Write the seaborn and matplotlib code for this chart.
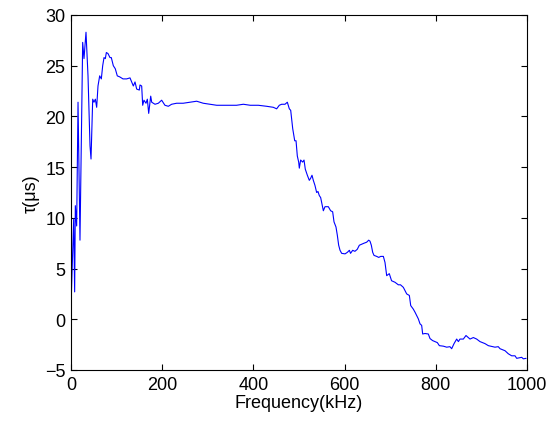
import matplotlib
matplotlib.use("Agg")
import matplotlib.pyplot as plt
import seaborn as sns
import pandas as pd

freq_khz = [0.7, 5.9, 8.0, 9.5, 12.4, 15.4, 19.7, 25.6, 28.5, 32.9, 37.3, 41.7, 43.9,
            47.6, 50.4, 53.4, 56.3, 59.2, 62.9, 66.5, 69.5, 72.4, 75.3, 77.5, 81.1,
            85.5, 88.4, 92.8, 97.1, 101.5, 106.8, 114.0, 122.0, 129.4, 136.7, 140.4,
            144.0, 149.8, 151.3, 155.0, 157.2, 160.0, 164.5, 167.4, 170.4, 174.8,
            177.0, 184.2, 191.5, 198.8, 206.0, 213.4, 220.7, 231.7, 246.0, 261.0,
            275.6, 290.0, 304.8, 319.5, 334.0, 349.0, 363.0, 378.0, 393.0, 410.8,
            429.0, 443.6, 451.0, 456.8, 462.0, 469.3, 474.4, 478.8, 481.8, 486.2,
            490.6, 493.5, 496.3, 499.3, 500.7, 503.6, 508.0, 511.0, 513.8, 518.3,
            522.6, 525.5, 528.5, 531.4, 535.0, 538.7, 541.6, 544.5, 547.5, 549.7,
            553.4, 557.0, 564.3, 569.4, 573.8, 576.8, 581.1, 584.0, 587.0, 590.0,
            593.6, 601.0, 606.0, 610.5, 613.0, 617.7, 622.6, 627.8, 632.3, 637.4,
            642.5, 648.4, 652.8, 655.7, 658.6, 661.6, 664.5, 670.4, 674.8, 679.2,
            685.0, 688.6, 692.3, 698.0, 703.0, 710.5, 717.8, 722.6, 728.8, 736.2,
            742.0, 745.0, 750.7, 754.4, 761.7, 765.4, 769.0, 771.2, 776.3, 783.6,
            787.3, 793.0, 798.0, 803.4, 807.8, 816.6, 823.9, 831.0, 834.8, 840.0,
            845.8, 849.5, 853.0, 860.4, 866.2, 875.0, 882.3, 889.6, 896.9, 907.9,
            915.2, 929.8, 937.0, 940.8, 951.8, 959.0, 966.4, 973.7, 977.4, 988.3,
            992.0, 998.0]
tau_us = [2.3, 9.9, 2.7, 11.2, 9.2, 21.4, 7.8, 27.3, 25.7, 28.3, 24.0, 17.1, 15.8,
          21.7, 21.4, 21.7, 20.9, 23.0, 24.0, 23.7, 25.0, 25.8, 25.7, 26.3, 26.2,
          25.8, 25.8, 25.0, 24.7, 24.0, 23.9, 23.7, 23.7, 23.8, 23.0, 23.4,
          22.7, 22.6, 23.1, 23.0, 21.1, 21.6, 21.3, 21.7, 20.3, 22.0,
          21.4, 21.2, 21.3, 21.6, 21.1, 21.0, 21.2, 21.3, 21.3, 21.4,
          21.5, 21.3, 21.2, 21.1, 21.1, 21.1, 21.1, 21.2, 21.1, 21.1,
          21.0, 20.9, 20.75, 21.1, 21.2, 21.2, 21.4, 20.75, 20.6, 18.8,
          17.6, 17.6, 16.1, 15.5, 14.9, 15.7, 15.5, 15.7, 14.8, 14.2,
          13.7, 13.9, 14.2, 13.7, 13.2, 12.5, 12.6, 12.2, 12.0, 11.5,
          10.7, 11.1, 11.1, 10.7, 10.6, 9.6, 9.1, 8.3, 7.3, 6.8,
          6.5, 6.45, 6.6, 6.8, 6.5, 6.8, 6.7, 6.9, 7.3, 7.4,
          7.5, 7.6, 7.8, 7.7, 7.3, 6.6, 6.3, 6.2, 6.1, 6.2,
          6.2, 5.6, 4.3, 4.5, 3.8, 3.65, 3.4, 3.4, 3.15, 2.5,
          2.35, 1.35, 1.0, 0.7, 0.04, -0.45, -0.6, -1.45, -1.4, -1.45,
          -1.9, -2.1, -2.2, -2.3, -2.6, -2.65, -2.75, -2.7, -2.9, -2.4,
          -1.95, -2.2, -1.95, -1.95, -1.6, -1.95, -1.8, -1.95, -2.2, -2.4,
          -2.6, -2.75, -2.7, -2.9, -3.1, -3.4, -3.6, -3.6, -3.85, -3.75,
          -3.9, -3.85]
x_ticks = [0, 200, 400, 600, 800, 1000]
y_ticks = [-5, 0, 5, 10, 15, 20, 25, 30]

sns.set_theme(style="ticks")
plt.rcParams['font.family'] = ['Liberation Sans', 'DejaVu Sans']
plt.rcParams['text.color'] = 'black'
plt.rcParams['axes.labelcolor'] = 'black'
plt.rcParams['xtick.color'] = 'black'
plt.rcParams['ytick.color'] = 'black'

df = pd.DataFrame({"Frequency": freq_khz, "tau": tau_us})

fig = plt.figure(figsize=(5.51, 4.27), dpi=100)
ax = fig.add_axes([71/551, 56/427, 456/551, 355/427])
sns.lineplot(data=df, x="Frequency", y="tau", ax=ax, color=(0, 0, 1),
             linewidth=0.8, estimator=None, sort=False)
ax.set_xlim(0, 1000)
ax.set_ylim(-5, 30)
ax.set_xticks(x_ticks)
ax.set_yticks(y_ticks)
ax.set_xlabel("Frequency(kHz)", fontsize=13, labelpad=1, color="black")
ax.set_ylabel("τ(μs)", fontsize=13, labelpad=4, color="black")
ax.tick_params(direction="in", length=4, width=0.8, labelsize=13,
               top=True, right=True, colors="black", pad=4)
for s in ax.spines.values():
    s.set_visible(True)
    s.set_linewidth(0.8)
    s.set_color("black")
fig.savefig("out.png", dpi=100)
